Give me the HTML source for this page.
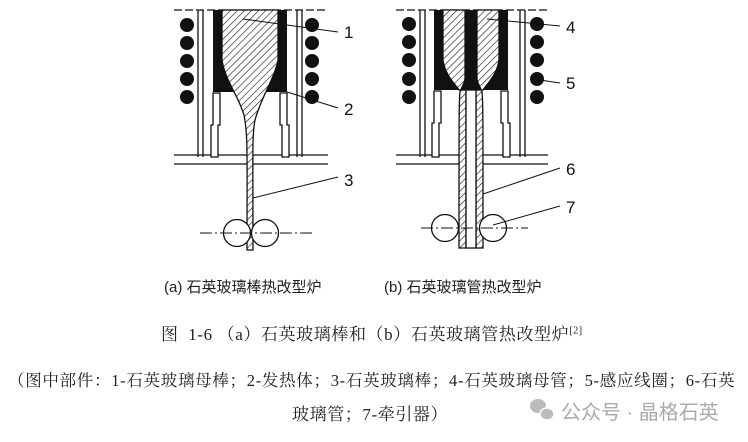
<!DOCTYPE html>
<html><head><meta charset="utf-8"><style>
html,body{margin:0;padding:0;background:#fff;}
body{width:748px;height:442px;position:relative;overflow:hidden;}
svg{position:absolute;left:0;top:0;}
.t{position:absolute;white-space:nowrap;color:#222;}
.s{font-family:"Liberation Serif","Noto Serif CJK SC",serif;}
.n{font-family:"Liberation Sans","Noto Sans CJK SC",sans-serif;}
</style></head><body>
<svg width="748" height="442" viewBox="0 0 748 442">
<defs>
<pattern id="h" width="5" height="5" patternUnits="userSpaceOnUse" patternTransform="rotate(45)">
<rect width="5" height="5" fill="#fff"/><line x1="0" y1="0" x2="0" y2="5" stroke="#222" stroke-width="1.3"/>
</pattern>
</defs>
<g stroke="#111" fill="none" stroke-width="1.3">
<line x1="174" y1="10" x2="328" y2="10" stroke-dasharray="8,3"/>
<line x1="198" y1="10" x2="198" y2="157"/><line x1="203" y1="10" x2="203" y2="157"/>
<line x1="297" y1="10" x2="297" y2="157"/><line x1="302" y1="10" x2="302" y2="157"/>
<line x1="174" y1="155" x2="328" y2="155"/><line x1="174" y1="164" x2="328" y2="164"/>
<path d="M213,10 H287 V92 H213 Z" fill="#111" stroke="none"/>
<path d="M222,10 H278 V60 C274,80 262,95 255,120 C252,135 253,150 253,250 H247 C247,150 248,135 244,115 C238,95 225,80 222,60 Z" fill="url(#h)"/>
<path d="M213,93 h7 v32 h-2 v32 h-7 v-32 h2 z M280,93 h7 v32 h2 v32 h-7 v-32 h-2 z" fill="#fff"/>
<circle cx="237" cy="233" r="13.5" fill="#fff"/><circle cx="265" cy="233" r="13.5" fill="#fff"/>
<line x1="200" y1="233" x2="313" y2="233" stroke-dasharray="12,3,2,3" stroke-width="1"/>
<g fill="#111" stroke="none">
<circle cx="187" cy="25" r="7"/><circle cx="187" cy="43" r="7"/><circle cx="187" cy="61" r="7"/><circle cx="187" cy="79" r="7"/><circle cx="187" cy="97" r="7"/>
<circle cx="312" cy="25" r="7"/><circle cx="312" cy="43" r="7"/><circle cx="312" cy="61" r="7"/><circle cx="312" cy="79" r="7"/><circle cx="312" cy="97" r="7"/>
</g>
<line x1="243" y1="19" x2="338" y2="32" stroke-width="1"/>
<line x1="287" y1="92" x2="338" y2="108" stroke-width="1"/>
<line x1="253" y1="198" x2="338" y2="177" stroke-width="1"/>
<line x1="396" y1="10" x2="548" y2="10" stroke-dasharray="8,3"/>
<line x1="420" y1="10" x2="420" y2="157"/><line x1="425" y1="10" x2="425" y2="157"/>
<line x1="520" y1="10" x2="520" y2="157"/><line x1="525" y1="10" x2="525" y2="157"/>
<line x1="396" y1="155" x2="548" y2="155"/><line x1="396" y1="164" x2="548" y2="164"/>
<path d="M434,10 H508 V90 H434 Z" fill="#111" stroke="none"/>
<path d="M443,10 H465 V78 C465,83 462,86 460,92 C459,100 459,110 459,248 H466 V92 H476 V248 H483 C483,110 483,100 482,92 C480,86 477,83 477,78 V10 H499 V60 C497,75 487,84 483,90 L459,90 C455,84 445,75 443,60 Z" fill="url(#h)"/>
<path d="M466,10 V90 M476,10 V90 M470,10 V90" stroke-width="1"/>
<rect x="466" y="90" width="10" height="158" fill="#fff"/>
<path d="M434,91 h7 v32 h-2 v34 h-7 v-34 h2 z M501,91 h7 v32 h2 v34 h-7 v-34 h-2 z" fill="#fff"/>
<circle cx="445" cy="228" r="13.5" fill="#fff"/><circle cx="493" cy="228" r="13.5" fill="#fff"/>
<line x1="421" y1="228" x2="528" y2="228" stroke-dasharray="12,3,2,3" stroke-width="1"/>
<g fill="#111" stroke="none">
<circle cx="409" cy="24" r="7"/><circle cx="409" cy="42" r="7"/><circle cx="409" cy="60" r="7"/><circle cx="409" cy="79" r="7"/><circle cx="409" cy="97" r="7"/>
<circle cx="537" cy="24" r="7"/><circle cx="537" cy="42" r="7"/><circle cx="537" cy="60" r="7"/><circle cx="537" cy="79" r="7"/><circle cx="537" cy="97" r="7"/>
</g>
<line x1="487" y1="19" x2="560" y2="26" stroke-width="1"/>
<line x1="540" y1="80" x2="560" y2="83" stroke-width="1"/>
<line x1="483" y1="194" x2="560" y2="168" stroke-width="1"/>
<line x1="493" y1="225" x2="560" y2="206" stroke-width="1"/>
</g>
<g font-family="Liberation Sans,sans-serif" font-size="17" fill="#111">
<text x="344" y="38">1</text><text x="344" y="115">2</text><text x="344" y="186">3</text>
<text x="566" y="33">4</text><text x="566" y="89">5</text><text x="566" y="175">6</text><text x="566" y="213">7</text>
</g>
<g fill="#bbb">
<ellipse cx="538" cy="406" rx="8" ry="7"/><ellipse cx="547" cy="414" rx="7" ry="6" stroke="#fff" stroke-width="1.5"/>
</g>
</svg>
<div class="t n" style="left:164px;top:276px;font-size:15px;">(a) 石英玻璃棒热改型炉</div>
<div class="t n" style="left:384px;top:276px;font-size:15px;">(b) 石英玻璃管热改型炉</div>
<div class="t s" style="left:161px;top:320px;font-size:17px;letter-spacing:0.6px;">图&nbsp; 1-6 （a）石英玻璃棒和（b）石英玻璃管热改型炉<sup style="font-size:10px">[2]</sup></div>
<div class="t s" style="left:8px;top:367px;font-size:16.5px;letter-spacing:0.7px;">（图中部件：1-石英玻璃母棒；2-发热体；3-石英玻璃棒；4-石英玻璃母管；5-感应线圈；6-石英</div>
<div class="t s" style="left:292px;top:400px;font-size:17px;letter-spacing:0.6px;">玻璃管；7-牵引器）</div>
<div class="t n" style="left:561px;top:396px;font-size:20px;color:#aaa;">公众号 · 晶格石英</div>
</body></html>
